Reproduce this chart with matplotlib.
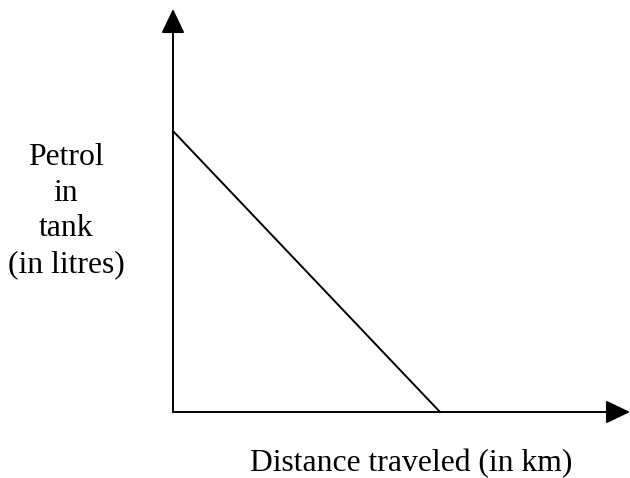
import matplotlib
matplotlib.use("Agg")
import matplotlib.pyplot as plt
from matplotlib.patches import ArrowStyle

# Petrol in tank falls linearly with distance traveled
distance = [0, 400]      # km
petrol = [40, 0]         # litres

x_label = "Distance traveled (in km)"
y_label = "Petrol\nin\ntank\n(in litres)"

plt.rcParams['font.family'] = ['Liberation Serif', 'DejaVu Serif']

W, H = 630, 478
fig = plt.figure(figsize=(W / 100, H / 100), dpi=100)

# axes origin sits at pixel (173, 412), arrow tips at x=630 and y=9
x0, y0 = 173, 412
ax = fig.add_axes([x0 / W, (H - y0) / H, (W - x0) / W, (y0 - 9) / H])
ax.set_xlim(0, distance[1] * (W - x0) / 267)
ax.set_ylim(0, petrol[0] * (y0 - 9) / 281)
ax.axis('off')

head = ArrowStyle('-|>', head_length=15, head_width=7.2)
for end in [(1, 0), (0, 1)]:
    ax.annotate("", xy=end, xytext=(0, 0), xycoords='axes fraction',
                arrowprops=dict(arrowstyle=head, mutation_scale=1,
                                color='black', lw=1.4,
                                shrinkA=0, shrinkB=0),
                annotation_clip=False)

ax.plot(distance, petrol, color='black', lw=1.4, clip_on=False)

fig.text(66 / W, (H - 211) / H, y_label, ha='center', va='center',
         multialignment='center', fontsize=22.8, linespacing=1.3)
fig.text(411 / W, (H - 471) / H, x_label, ha='center', va='baseline',
         fontsize=22.8)

fig.savefig("out.png", dpi=100)
